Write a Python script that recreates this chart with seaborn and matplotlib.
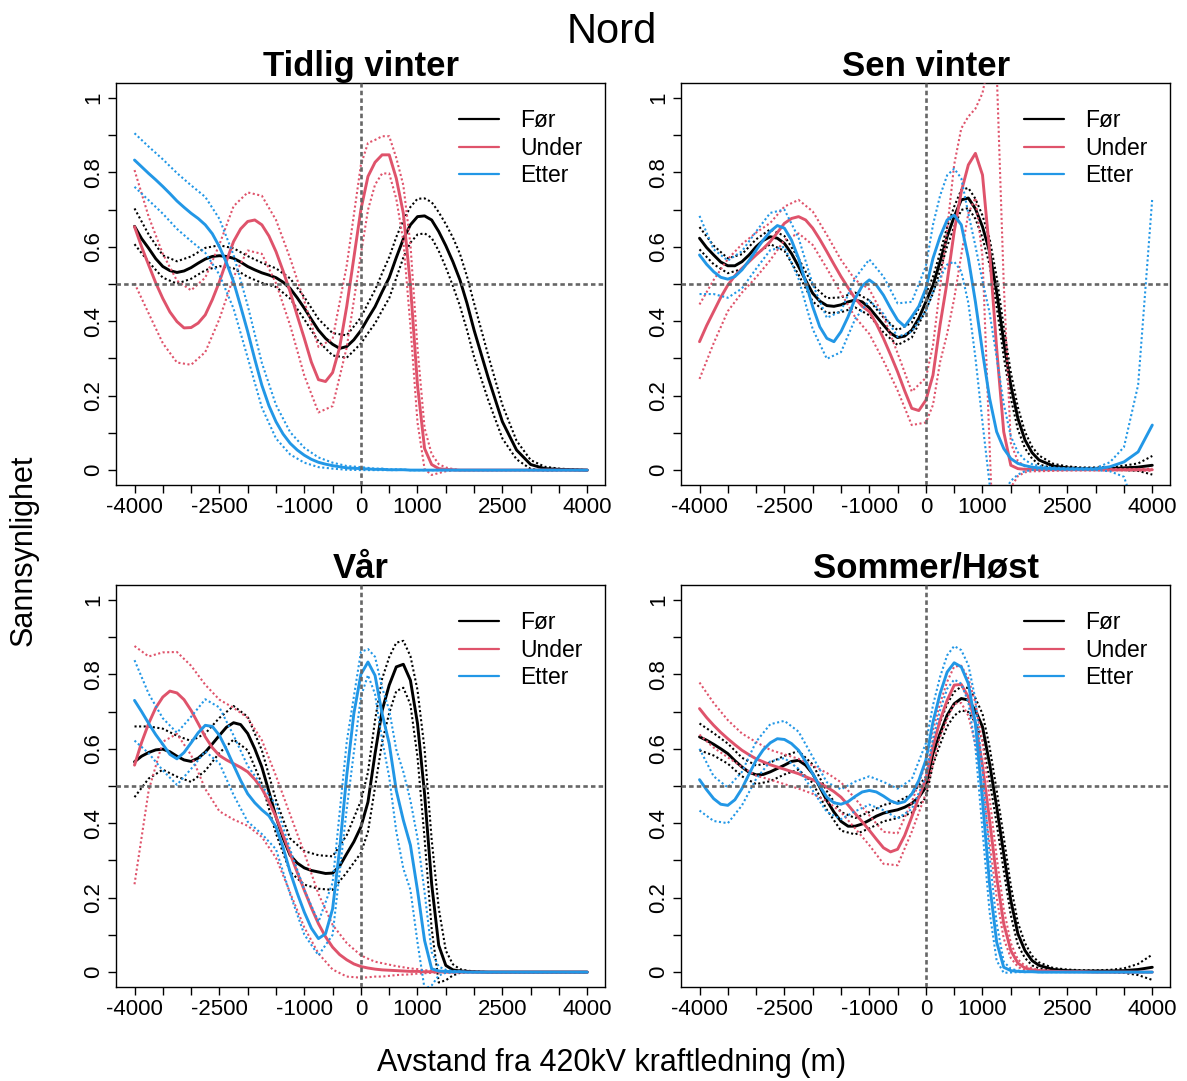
import numpy as np
import pandas as pd
import matplotlib
matplotlib.use("Agg")
import matplotlib.pyplot as plt
import seaborn as sns
from matplotlib.lines import Line2D

# Distance from the power line (m) for the fitted curves
avstand = [-4000, -3875, -3750, -3625, -3500, -3375, -3250, -3125, -3000, -2875,
           -2750, -2625, -2500, -2375, -2250, -2125, -2000, -1875, -1750, -1625,
           -1500, -1375, -1250, -1125, -1000, -875, -750, -625, -500, -375, -250, -125, 0,
           125, 250, 375, 500, 625, 750, 875, 1000, 1125, 1250, 1375, 1500,
           1625, 1750, 1875, 2000,
           2250, 2500, 2750, 3000, 3250, 3500, 3750, 4000]

# Distances where the interval half-widths are given
avstand_ci = [-4000, -3750, -3500, -3250, -3000, -2750, -2500, -2250, -2000, -1750,
              -1500, -1250, -1000, -750, -500, -250, 0,
              125, 250, 375, 500, 625, 750, 875, 1000, 1125, 1250, 1375, 1500,
              1625, 1750, 1875, 2000,
              2250, 2500, 2750, 3000, 3250, 3500, 3750, 4000]

perioder = ["Før", "Under", "Etter"]
farger = {"Før": "#000000", "Under": "#DF536B", "Etter": "#2297E6"}
sesonger = ["Tidlig vinter", "Sen vinter", "Vår", "Sommer/Høst"]

# Tidlig vinter
tv_for = [.655, .622, .596, .568, .547, .536, .531, .535, .544, .556, .567, .574, .576, .574, .569, .559, .547,
          .538, .530, .524, .517, .505, .488, .463, .435, .405, .376, .354, .338, .327, .332, .350, .375,
          .408, .439, .479, .517, .571, .621, .659, .681, .683, .672, .641, .603, .560, .511, .448, .376,
          .248, .130, .054, .015, .004, .002, .001, 0]
tv_for_ci = [.048, .037, .030, .030, .030, .030, .028, .027, .028, .027, .025, .027, .030, .030, .030, .030, .035,
             .040, .045, .050, .055, .055, .050, .048, .048, .047, .048, .052, .058, .065, .070, .072, .072,
             .060, .045, .025, .012, .005, .002, .001, 0]
tv_under = [.654, .600, .551, .503, .461, .425, .399, .382, .383, .395, .417, .458, .506, .562, .614, .648, .668,
            .672, .659, .629, .587, .535, .479, .415, .354, .290, .243, .238, .262, .330, .440, .570, .700,
            .789, .827, .847, .847, .784, .690, .497, .228, .058, .015, .004, .002, .001, 0, 0, 0,
            0, 0, 0, 0, 0, 0, 0, 0]
tv_under_ci = [.152, .130, .120, .110, .100, .100, .100, .095, .078, .078, .085, .090, .100, .088, .090, .110, .120,
               .090, .060, .050, .050, .055, .075, .110, .100, .055, .028, .012, .005, .002, 0, 0, 0,
               0, 0, 0, 0, 0, 0, 0, 0]
tv_etter = [.833, .815, .797, .780, .762, .743, .723, .706, .690, .676, .659, .635, .600, .557, .506, .440, .372,
            .298, .228, .173, .130, .097, .072, .054, .040, .029, .021, .016, .012, .009, .006, .005, .004,
            .003, .002, .002, .001, .001, .001, 0, 0, 0, 0, 0, 0, 0, 0, 0, 0,
            0, 0, 0, 0, 0, 0, 0, 0]
tv_etter_ci = [.072, .072, .073, .075, .075, .075, .075, .072, .070, .060, .045, .030, .020, .013, .008, .005, .004,
               .003, .002, .002, .001, .001, 0, 0, 0, 0, 0, 0, 0, 0, 0, 0, 0,
               0, 0, 0, 0, 0, 0, 0, 0]

# Sen vinter
sv_for = [.623, .598, .578, .559, .549, .549, .560, .578, .600, .617, .627, .623, .609, .582, .547, .510, .475,
          .454, .442, .440, .444, .452, .457, .452, .436, .413, .390, .368, .356, .360, .376, .408, .452,
          .497, .560, .627, .681, .726, .731, .702, .654, .587, .479, .345, .228, .139, .081, .047, .027,
          .011, .006, .004, .004, .004, .006, .008, .013]
sv_for_ci = [.030, .025, .020, .020, .020, .020, .020, .022, .022, .020, .020, .020, .020, .020, .020, .020, .022,
             .022, .024, .026, .027, .027, .027, .027, .030, .035, .040, .040, .035, .030, .022, .016, .012,
             .006, .004, .003, .003, .004, .006, .010, .025]
sv_under = [.345, .388, .426, .464, .497, .522, .542, .560, .578, .595, .614, .638, .663, .676, .681, .672, .650,
            .620, .587, .553, .520, .490, .461, .440, .426, .393, .354, .310, .264, .213, .166, .160, .188,
            .255, .390, .506, .641, .748, .820, .851, .793, .587, .327, .103, .013, .004, .002, .002, .001,
            .001, .001, .001, .001, .001, .001, .001, .001]
sv_under_ci = [.100, .085, .070, .065, .060, .050, .045, .045, .045, .045, .045, .050, .060, .060, .050, .045, .060,
               .080, .100, .140, .180, .170, .130, .120, .220, .520, .750, .400, .060, .020, .008, .005, .004,
               .003, .002, .002, .002, .002, .002, .002, .003]
sv_etter = [.578, .553, .533, .518, .513, .520, .538, .563, .591, .618, .641, .657, .650, .618, .569, .505, .439,
            .385, .354, .345, .372, .412, .461, .495, .511, .497, .470, .435, .403, .386, .412, .440, .488,
            .569, .627, .672, .685, .659, .569, .452, .318, .193, .103, .058, .031, .018, .012, .008, .006,
            .004, .003, .003, .003, .009, .022, .049, .121]
sv_etter_ci = [.105, .060, .050, .050, .050, .050, .050, .055, .060, .055, .055, .055, .055, .050, .045, .040, .060,
               .090, .110, .120, .125, .125, .120, .150, .190, .230, .200, .120, .060, .030, .015, .008, .005,
               .003, .002, .002, .003, .012, .040, .180, .610]

# Vår
va_for = [.565, .580, .590, .597, .599, .592, .580, .570, .566, .575, .591, .613, .636, .658, .670, .665, .641,
          .600, .551, .485, .417, .360, .314, .293, .280, .273, .269, .265, .266, .285, .318, .350, .390,
          .457, .587, .703, .771, .820, .827, .784, .668, .479, .237, .072, .018, .006, .003, .002, .001,
          0, 0, 0, 0, 0, 0, 0, 0]
va_for_ci = [.095, .070, .055, .055, .055, .050, .047, .045, .045, .045, .045, .045, .045, .045, .045, .050, .070,
             .080, .090, .085, .075, .065, .063, .065, .090, .120, .120, .100, .040, .015, .005, .002, .001,
             0, 0, 0, 0, 0, 0, 0, 0]
va_under = [.556, .617, .668, .710, .739, .755, .750, .732, .703, .668, .632, .603, .582, .570, .560, .550, .538,
            .518, .493, .458, .417, .368, .318, .268, .220, .173, .130, .095, .067, .047, .033, .022, .015,
            .011, .008, .006, .005, .004, .003, .002, .002, .001, .001, .001, 0, 0, 0, 0, 0,
            0, 0, 0, 0, 0, 0, 0, 0]
va_under_ci = [.320, .180, .120, .110, .120, .140, .150, .150, .145, .130, .110, .105, .100, .080, .060, .045, .030,
               .025, .020, .018, .015, .012, .010, .008, .006, .004, .003, .002, .001, 0, 0, 0, 0,
               0, 0, 0, 0, 0, 0, 0, 0]
va_etter = [.730, .700, .668, .638, .612, .585, .573, .590, .616, .643, .663, .660, .636, .598, .556, .515, .479,
            .455, .436, .420, .390, .335, .269, .212, .161, .118, .090, .103, .170, .332, .529, .694, .800,
            .833, .797, .694, .614, .488, .408, .341, .220, .085, .009, .003, .002, .001, .001, 0, 0,
            0, 0, 0, 0, 0, 0, 0, 0]
va_etter_ci = [.108, .080, .070, .070, .070, .070, .075, .080, .075, .065, .060, .060, .060, .045, .070, .090, .060,
               .035, .050, .070, .090, .110, .130, .120, .140, .130, .045, .012, .004, .002, .001, 0, 0,
               0, 0, 0, 0, 0, 0, 0, 0]

# Sommer/Høst
sh_for = [.632, .623, .612, .600, .587, .568, .551, .537, .530, .531, .538, .547, .556, .566, .569, .556, .533,
          .497, .461, .430, .405, .392, .392, .398, .408, .419, .427, .432, .436, .443, .453, .470, .497,
          .587, .641, .690, .721, .735, .731, .703, .659, .560, .444, .318, .193, .103, .058, .031, .018,
          .007, .004, .003, .003, .003, .004, .007, .013]
sh_for_ci = [.036, .030, .027, .025, .025, .025, .025, .025, .025, .025, .025, .022, .022, .022, .022, .025, .028,
             .030, .030, .030, .032, .032, .032, .033, .035, .045, .045, .045, .040, .030, .020, .013, .008,
             .004, .003, .002, .002, .003, .006, .015, .034]
sh_under = [.708, .684, .663, .644, .627, .611, .596, .584, .573, .565, .557, .551, .545, .539, .533, .525, .517,
            .507, .497, .485, .470, .449, .426, .404, .381, .357, .334, .323, .330, .367, .417, .470, .520,
            .605, .677, .730, .771, .773, .739, .668, .556, .408, .255, .130, .058, .024, .011, .006, .004,
            .002, .001, .001, 0, 0, 0, 0, 0]
sh_under_ci = [.070, .060, .050, .045, .045, .040, .040, .040, .038, .038, .040, .040, .040, .043, .043, .040, .040,
               .045, .045, .050, .050, .050, .050, .055, .060, .060, .055, .040, .020, .010, .006, .004, .002,
               .001, 0, 0, 0, 0, 0, 0, 0]
sh_etter = [.517, .490, .466, .451, .448, .463, .493, .532, .569, .597, .616, .627, .625, .614, .596, .566, .533,
            .500, .470, .455, .451, .458, .472, .484, .488, .484, .473, .460, .453, .458, .478, .515, .570,
            .672, .748, .806, .831, .820, .775, .668, .461, .237, .081, .013, .004, .002, .001, .001, 0,
            0, 0, 0, 0, 0, 0, 0, 0]
sh_etter_ci = [.083, .060, .048, .045, .050, .050, .050, .050, .045, .040, .040, .040, .038, .038, .040, .040, .045,
               .045, .045, .045, .045, .045, .050, .065, .080, .075, .050, .015, .005, .002, .001, 0, 0,
               0, 0, 0, 0, 0, 0, 0, 0]

paneler = {
    "Tidlig vinter": [(tv_for, tv_for_ci), (tv_under, tv_under_ci), (tv_etter, tv_etter_ci)],
    "Sen vinter": [(sv_for, sv_for_ci), (sv_under, sv_under_ci), (sv_etter, sv_etter_ci)],
    "Vår": [(va_for, va_for_ci), (va_under, va_under_ci), (va_etter, va_etter_ci)],
    "Sommer/Høst": [(sh_for, sh_for_ci), (sh_under, sh_under_ci), (sh_etter, sh_etter_ci)],
}


def lag_tabeller(serier):
    """Long tables: one for the fitted curves, one for the interval limits."""
    kurver, grenser = [], []
    for periode, (p, ci) in zip(perioder, serier):
        p = pd.Series(np.asarray(p, dtype=float), index=avstand)
        ci = np.asarray(ci, dtype=float)
        p_ci = p.loc[avstand_ci].to_numpy()
        kurver.append(pd.DataFrame({"Avstand": avstand, "Periode": periode,
                                    "Sannsynlighet": p.to_numpy()}))
        grenser.append(pd.DataFrame({"Avstand": avstand_ci, "Periode": periode,
                                     "Nedre": p_ci - ci, "Ovre": p_ci + ci}))
    return pd.concat(kurver, ignore_index=True), pd.concat(grenser, ignore_index=True)


sns.set_style("ticks", {"text.color": "black", "axes.labelcolor": "black",
                        "xtick.color": "black", "ytick.color": "black",
                        "axes.edgecolor": "black"})
plt.rcParams["font.family"] = ["Liberation Sans", "DejaVu Sans"]
plt.rcParams["text.color"] = "black"
plt.rcParams["axes.linewidth"] = 1.0

W, H = 1187, 1081
fig = plt.figure(figsize=(W / 100, H / 100), dpi=100)
fig.patch.set_facecolor("white")

# panel boxes in pixels (left, top)
bokser = [(116.4, 83), (681.4, 83), (116.4, 585), (681.4, 585)]
bw, bh = 489, 402

xticks = np.arange(-4000, 4001, 500)
xlabels = [str(v) if v in (-4000, -2500, -1000, 0, 1000, 2500, 4000) else "" for v in xticks]
yticks = np.round(np.arange(0, 1.001, 0.1), 1)
ylabels = ["0", "", "0.2", "", "0.4", "", "0.6", "", "0.8", "", "1"]

prikket = (0, (1, 1.2))
stiplet = (0, (1.7, 1.2))

for sesong, (x0, y0) in zip(sesonger, bokser):
    ax = fig.add_axes([x0 / W, 1 - (y0 + bh) / H, bw / W, bh / H])
    kurver, grenser = lag_tabeller(paneler[sesong])

    for periode in perioder:
        k = kurver[kurver["Periode"] == periode]
        g = grenser[grenser["Periode"] == periode]
        sns.lineplot(data=k, x="Avstand", y="Sannsynlighet", color=farger[periode],
                     linewidth=2.1, estimator=None, legend=False, ax=ax, zorder=3)
        for kol in ("Nedre", "Ovre"):
            sns.lineplot(data=g, x="Avstand", y=kol, color=farger[periode],
                         linewidth=1.5, linestyle=prikket, estimator=None,
                         legend=False, ax=ax, zorder=3)

    ax.axhline(0.5, color="#666666", linewidth=1.9, linestyle=stiplet, zorder=5)
    ax.axvline(0, color="#666666", linewidth=1.9, linestyle=stiplet, zorder=5)

    ax.set_xlim(-4320, 4320)
    ax.set_ylim(-0.04, 1.04)
    ax.set_xticks(xticks)
    ax.set_xticklabels(xlabels)
    ax.set_yticks(yticks)
    ax.set_yticklabels(ylabels, rotation=90, va="center")
    ax.tick_params(direction="out", length=5.5, width=1.0, labelsize=16,
                   pad=3, colors="black")
    ax.set_xlabel("")
    ax.set_ylabel("")
    for s in ax.spines.values():
        s.set_visible(True)
        s.set_color("black")
        s.set_linewidth(1.0)

    ax.set_title(sesong, fontsize=25, fontweight="bold", pad=4, color="black")

    handles = [Line2D([], [], color=farger[p], linewidth=1.6) for p in perioder]
    ax.legend(handles, perioder, loc="upper left", bbox_to_anchor=(0.70, 0.935),
              frameon=False, fontsize=16.5, handlelength=1.75, handletextpad=0.95,
              labelspacing=0.2, borderaxespad=0, borderpad=0)

fig.text(612 / W, 1 - 43 / H, "Nord", ha="center", va="baseline", fontsize=30)
fig.text(612 / W, 1 - 1071 / H, "Avstand fra 420kV kraftledning (m)",
         ha="center", va="baseline", fontsize=22)
fig.text(24 / W, 1 - 550 / H, "Sannsynlighet", rotation=90,
         ha="center", va="center", fontsize=22)

fig.savefig("out.png", dpi=100, facecolor="white")
